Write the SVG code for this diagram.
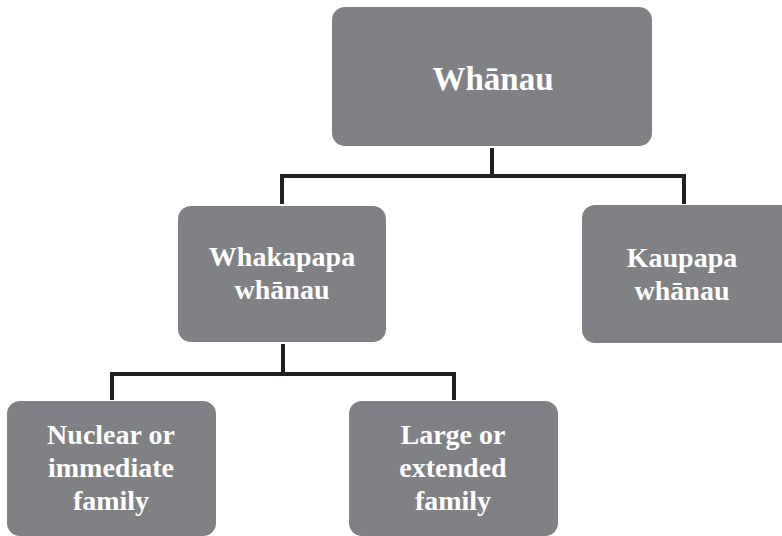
<svg xmlns="http://www.w3.org/2000/svg" width="782" height="536" viewBox="0 0 782 536">
<style>
.box{fill:#808184}
.lbl{font-family:"Liberation Serif","DejaVu Serif",serif;font-weight:bold;fill:#ffffff;text-anchor:middle;font-size:28px}
.top{font-size:33px}
.conn{fill:none;stroke:#231f20;stroke-width:4;stroke-linejoin:miter}
</style>
<rect width="782" height="536" fill="#ffffff"/>
<g id="connectors">
<path class="conn" d="M492,148 V176 M282,204 V176 H684 V204"/>
<path class="conn" d="M283,344 V374 M112,400 V374 H454 V400"/>
</g>
<g id="whanau">
<rect class="box" x="332" y="7" width="320" height="139" rx="13"/>
<text class="lbl top" x="493" y="90">Whānau</text>
</g>
<g id="whakapapa">
<rect class="box" x="178" y="206" width="208" height="136" rx="13"/>
<text class="lbl" x="282" y="266">Whakapapa</text>
<text class="lbl" x="282" y="299">whānau</text>
</g>
<g id="kaupapa">
<rect class="box" x="582" y="205" width="213" height="138" rx="13"/>
<text class="lbl" x="682" y="267">Kaupapa</text>
<text class="lbl" x="682" y="300">whānau</text>
</g>
<g id="nuclear">
<rect class="box" x="7" y="401" width="209" height="135" rx="13"/>
<text class="lbl" x="111" y="444">Nuclear or</text>
<text class="lbl" x="111" y="477">immediate</text>
<text class="lbl" x="111" y="510">family</text>
</g>
<g id="extended">
<rect class="box" x="349" y="401" width="209" height="135" rx="13"/>
<text class="lbl" x="453" y="444">Large or</text>
<text class="lbl" x="453" y="477">extended</text>
<text class="lbl" x="453" y="510">family</text>
</g>
</svg>
